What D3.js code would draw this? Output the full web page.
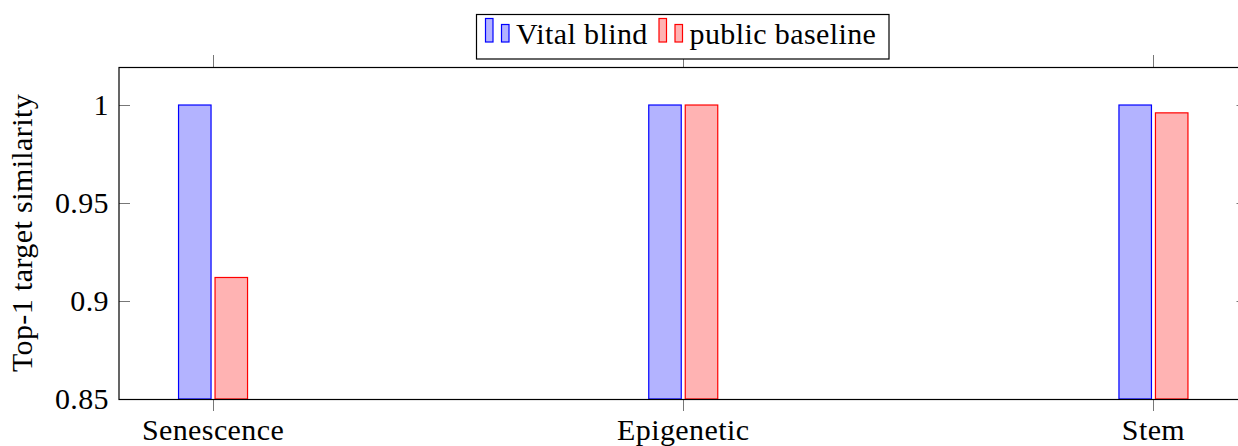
<!DOCTYPE html>
<html>
<head>
<meta charset="utf-8">
<title>Top-1 target similarity</title>
<script src="https://d3js.org/d3.v7.min.js"></script>
<style>
  body { margin: 0; background: #fff; }
</style>
</head>
<body>
<script>
// data
var categories = ["Senescence", "Epigenetic", "Stem"];
var seriesNames = ["Vital blind", "public baseline"];
var vitalBlind = [1.0, 1.0, 1.0];
var publicBaseline = [0.912, 1.0, 0.996];
var yTicks = [0.85, 0.9, 0.95, 1];
var yTickLabels = ["0.85", "0.9", "0.95", "1"];

var width = 1238, height = 446;
// note: "top" is a reserved window property, so use plot* names
var plotLeft = 119, plotRight = 1247.5, plotTop = 67, plotBottom = 399;
var fontSize = 30;
var fontFam = "'Liberation Serif', 'DejaVu Serif', serif";

var svg = d3.select("body").append("svg")
  .attr("width", width).attr("height", height)
  .attr("font-family", fontFam)
  .attr("letter-spacing", 0.4);

// x: index scale with 0.2 enlargement on each side
var x = d3.scaleLinear().domain([-0.2, 2.2]).range([plotLeft, plotRight]);
var y = d3.scaleLinear().domain([0.85, 1.0194]).range([plotBottom, plotTop]);

var barW = 32.5, gap = 4;
var series = [
  { name: seriesNames[0], values: vitalBlind, fill: "#b3b3ff", stroke: "#0000ff", off: -gap / 2 - barW },
  { name: seriesNames[1], values: publicBaseline, fill: "#ffb3b3", stroke: "#ff0000", off: gap / 2 }
];

// bars
series.forEach(function(s) {
  svg.append("g").selectAll("rect")
    .data(s.values)
    .enter()
    .append("rect")
    .attr("x", function(d, i) { return x(i) + s.off; })
    .attr("y", function(d) { return y(d); })
    .attr("width", barW)
    .attr("height", function(d) { return y(0.85) - y(d); })
    .attr("fill", s.fill)
    .attr("stroke", s.stroke)
    .attr("stroke-width", 1.2);
});

// ticks
var tickCol = "#777";
var tickLen = 11;
var tg = svg.append("g").attr("stroke", tickCol).attr("stroke-width", 1);
yTicks.forEach(function(v) {
  var yy = Math.round(y(v)) + 0.5;
  tg.append("line").attr("x1", plotLeft).attr("x2", plotLeft + tickLen).attr("y1", yy).attr("y2", yy);
  tg.append("line").attr("x1", plotRight).attr("x2", plotRight - tickLen).attr("y1", yy).attr("y2", yy);
});
categories.forEach(function(c, i) {
  var xx = Math.round(x(i)) + 0.5;
  tg.append("line").attr("x1", xx).attr("x2", xx).attr("y1", plotBottom).attr("y2", plotBottom + 12);
  tg.append("line").attr("x1", xx).attr("x2", xx).attr("y1", plotTop).attr("y2", plotTop - 12);
});

// frame
svg.append("rect")
  .attr("x", plotLeft).attr("y", plotTop + 0.5)
  .attr("width", plotRight - plotLeft).attr("height", plotBottom - plotTop)
  .attr("fill", "none").attr("stroke", "#000").attr("stroke-width", 1.2);

// y tick labels
svg.append("g").selectAll("text")
  .data(yTicks)
  .enter()
  .append("text")
  .attr("x", 109)
  .attr("y", function(d) { return y(d) + 10; })
  .attr("text-anchor", "end")
  .attr("font-size", fontSize)
  .text(function(d, i) { return yTickLabels[i]; });

// x tick labels
svg.append("g").selectAll("text")
  .data(categories)
  .enter()
  .append("text")
  .attr("x", function(d, i) { return x(i); })
  .attr("y", 440)
  .attr("text-anchor", "middle")
  .attr("font-size", fontSize)
  .text(function(d) { return d; });

// y title
svg.append("text")
  .attr("transform", "translate(32," + (plotTop + plotBottom) / 2 + ") rotate(-90)")
  .attr("text-anchor", "middle")
  .attr("font-size", fontSize)
  .text("Top-1 target similarity");

// legend
var lg = svg.append("g");
lg.append("rect")
  .attr("x", 476.5).attr("y", 14.5).attr("width", 412.5).attr("height", 44.5)
  .attr("fill", "#fff").attr("stroke", "#000").attr("stroke-width", 1.2);
var legendX = [485, 658.5];
series.forEach(function(s, i) {
  var lx = legendX[i];
  lg.append("rect").attr("x", lx + 0.5).attr("y", 18.5).attr("width", 7.5).attr("height", 23.5)
    .attr("fill", s.fill).attr("stroke", s.stroke).attr("stroke-width", 1.2);
  lg.append("rect").attr("x", lx + 16.5).attr("y", 24.5).attr("width", 7.5).attr("height", 17.5)
    .attr("fill", s.fill).attr("stroke", s.stroke).attr("stroke-width", 1.2);
  lg.append("text").attr("x", lx + 31).attr("y", 44)
    .attr("font-size", fontSize)
    .text(s.name);
});
</script>
</body>
</html>
